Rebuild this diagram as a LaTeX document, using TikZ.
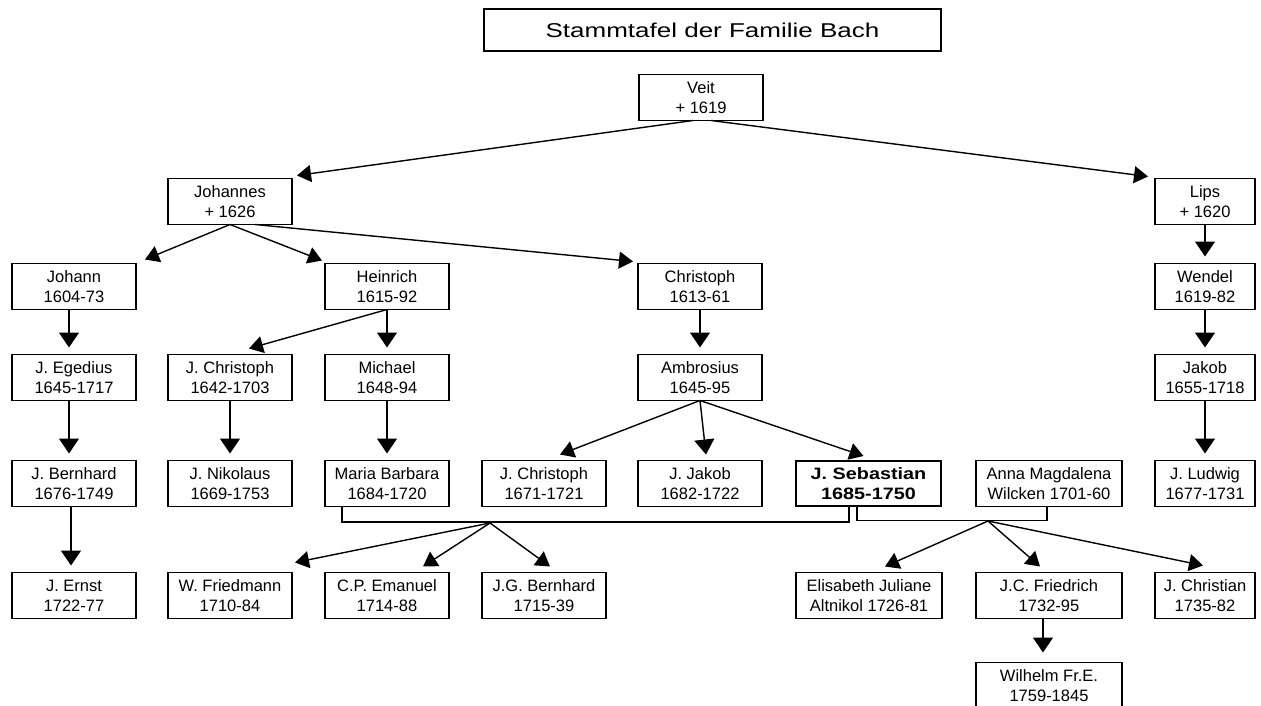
\documentclass[tikz,border=0pt]{standalone}
\usepackage{fontspec}
\setmainfont{Liberation Sans}
\newfontfamily\titlefont[FakeStretch=1.3]{Liberation Sans}
\newfontfamily\widefont[FakeStretch=1.2]{Liberation Sans}
\usetikzlibrary{arrows.meta}
\begin{document}
\begin{tikzpicture}[x=1pt,y=-1pt,
  person/.style={draw, line width=1.4pt, minimum width=124pt, minimum height=46pt,
    inner sep=0pt, outer sep=0pt, align=center, font=\fontsize{16.5}{20}\selectfont},
  narrow/.style={minimum width=100pt},
  wide/.style={minimum width=146pt},
  heir/.style={line width=2.8pt, minimum width=145pt, minimum height=45pt,
    font=\widefont\bfseries\fontsize{16.5}{20}\selectfont},
  link/.style={line width=1.4pt},
  down/.style={link, -{Triangle[length=15pt,width=20pt]}},
  slant/.style={link, -{Triangle[length=14pt,width=17pt]}},
]
\fill[white] (0,0) rectangle (1261,706);
\useasboundingbox (0,0) rectangle (1261,706);
\clip (0,0) rectangle (1261,706);

% title
\node[draw, line width=2.5pt, minimum width=457pt, minimum height=42pt, inner sep=0pt,
  outer sep=0pt, font=\titlefont\fontsize{20}{24}\selectfont] (title) at (712.5,30)
  {Stammtafel der Familie Bach};

% generation 0 and 1
\node[person] (veit) at (701,97.5) {Veit\\+ 1619};
\node[person] (johannes) at (230,201.5) {Johannes\\+ 1626};
\node[person,narrow] (lips) at (1205,201.5) {Lips\\+ 1620};

% generation 2
\node[person] (johann) at (74,286.5) {Johann\\1604-73};
\node[person] (heinrich) at (387,286.5) {Heinrich\\1615-92};
\node[person] (christoph) at (700,286.5) {Christoph\\1613-61};
\node[person,narrow] (wendel) at (1205,286.5) {Wendel\\1619-82};

% generation 3
\node[person] (egedius) at (74,377.5) {J. Egedius\\1645-1717};
\node[person] (jchr1) at (230,377.5) {J. Christoph\\1642-1703};
\node[person] (michael) at (387,377.5) {Michael\\1648-94};
\node[person] (ambrosius) at (700,377.5) {Ambrosius\\1645-95};
\node[person,narrow] (jakob) at (1205,377.5) {Jakob\\1655-1718};

% generation 4
\node[person] (bernhard) at (74,483.5) {J. Bernhard\\1676-1749};
\node[person] (nikolaus) at (230,483.5) {J. Nikolaus\\1669-1753};
\node[person] (maria) at (387,483.5) {Maria Barbara\\1684-1720};
\node[person] (jchr2) at (544,483.5) {J. Christoph\\1671-1721};
\node[person] (jjakob) at (700,483.5) {J. Jakob\\1682-1722};
\node[person,heir] (js) at (868.5,483.5) {J. Sebastian\\1685-1750};
\node[person,wide] (anna) at (1049,483.5) {Anna Magdalena\\Wilcken 1701-60};
\node[person,narrow] (ludwig) at (1205,483.5) {J. Ludwig\\1677-1731};

% generation 5
\node[person] (ernst) at (74,595.5) {J. Ernst\\1722-77};
\node[person] (friedmann) at (230,595.5) {W. Friedmann\\1710-84};
\node[person] (emanuel) at (387,595.5) {C.P. Emanuel\\1714-88};
\node[person] (jgb) at (544,595.5) {J.G. Bernhard\\1715-39};
\node[person,wide] (elisabeth) at (869,595.5) {Elisabeth Juliane\\Altnikol 1726-81};
\node[person,wide] (jcf) at (1049,595.5) {J.C. Friedrich\\1732-95};
\node[person,narrow] (christian) at (1205,595.5) {J. Christian\\1735-82};

% generation 6
\node[person,wide] (wilhelm) at (1049,685.5) {Wilhelm Fr.E.\\1759-1845};

% marriage points
\coordinate (m1) at (490,523);
\coordinate (m2) at (988,521);

% descent from Veit
\draw[slant] ([xshift=-8pt]veit.south) -- ([xshift=5pt,yshift=3pt]johannes.north east);
\draw[slant] ([xshift=10pt]veit.south) -- ([xshift=-7pt,yshift=2pt]lips.north west);

% descent from Johannes
\draw[slant] (johannes.south) -- ([xshift=9pt,yshift=4pt]johann.north east);
\draw[slant] (johannes.south) -- ([xshift=-3pt,yshift=3pt]heinrich.north west);
\draw[slant] ([xshift=25pt]johannes.south) -- ([xshift=-5pt,yshift=2pt]christoph.north west);

% Johann line
\draw[down] ([xshift=-5pt]johann.south) -- ([xshift=-5pt,yshift=7pt]egedius.north);
\draw[down] ([xshift=-5pt]egedius.south) -- ([xshift=-5pt,yshift=7pt]bernhard.north);
\draw[down] ([xshift=-3pt]bernhard.south) -- ([xshift=-3pt,yshift=7pt]ernst.north);

% Heinrich line
\draw[slant] (heinrich.south) -- ([xshift=19pt,yshift=6pt]jchr1.north);
\draw[down] (heinrich.south) -- ([yshift=7pt]michael.north);
\draw[down] (jchr1.south) -- ([yshift=7pt]nikolaus.north);
\draw[down] (michael.south) -- ([yshift=7pt]maria.north);

% Christoph line
\draw[down] (christoph.south) -- ([yshift=7pt]ambrosius.north);
\draw[slant] (ambrosius.south) -- ([xshift=16pt,yshift=6pt]jchr2.north);
\draw[down] (ambrosius.south) -- ([xshift=6pt,yshift=6pt]jjakob.north);
\draw[slant] (ambrosius.south) -- ([xshift=-5pt,yshift=5pt]js.north);

% Lips line
\draw[down] (lips.south) -- ([yshift=7pt]wendel.north);
\draw[down] (wendel.south) -- ([yshift=7pt]jakob.north);
\draw[down] (jakob.south) -- ([yshift=7pt]ludwig.north);

% marriages of J. Sebastian
\draw[link] ([xshift=-45pt]maria.south) |- ([xshift=-19.5pt,yshift=-16pt]js.south)
  -- ([xshift=-19.5pt]js.south);
\draw[link] ([xshift=-11.5pt]js.south) |- ([xshift=-2pt,yshift=-14pt]anna.south)
  -- ([xshift=-2pt]anna.south);

% children of the first marriage
\draw[slant] (m1) -- ([xshift=3pt,yshift=10pt]friedmann.north east);
\draw[slant] (m1) -- ([xshift=36pt,yshift=6pt]emanuel.north);
\draw[slant] (m1) -- ([xshift=6pt,yshift=6pt]jgb.north);

% children of the second marriage
\draw[slant] (m2) -- ([xshift=16pt,yshift=6pt]elisabeth.north);
\draw[slant] (m2) -- ([xshift=-9pt,yshift=6pt]jcf.north);
\draw[slant] (m2) -- ([xshift=-2pt,yshift=7pt]christian.north);
\draw[down] ([xshift=-6pt]jcf.south) -- ([xshift=-6pt,yshift=10pt]wilhelm.north);
\end{tikzpicture}
\end{document}
